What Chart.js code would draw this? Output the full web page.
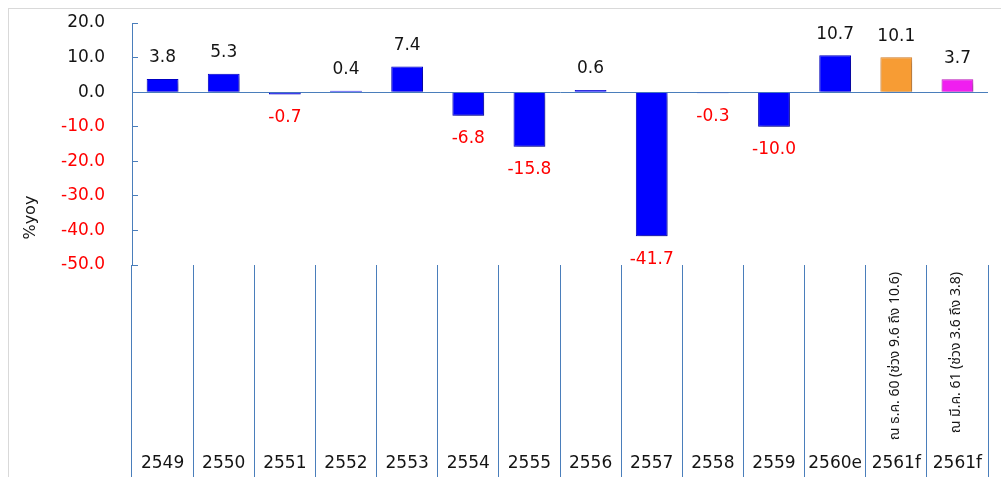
<!DOCTYPE html>
<html>
<head>
<meta charset="utf-8">
<script src="https://cdn.jsdelivr.net/npm/chart.js@4"></script>
<style>
  html, body { margin: 0; padding: 0; background: #fff; overflow: hidden; }
  #frame { position: absolute; left: 8px; top: 8px; width: 1010px; height: 490px; border: 1px solid #d9d9d9; }
  #chart { position: absolute; left: 0; top: 0; }
</style>
</head>
<body>
<div id="frame"></div>
<canvas id="chart" width="1001" height="477"></canvas>
<script>
// category labels (years) and forecast notes shown rotated above them
const years = ['2549', '2550', '2551', '2552', '2553', '2554', '2555', '2556', '2557', '2558', '2559', '2560e', '2561f', '2561f'];
const notes = ['', '', '', '', '', '', '', '', '', '', '', '',
    'ณ ธ.ค. 60 (ช่วง 9.6 ถึง 10.6)', 'ณ มี.ค. 61 (ช่วง 3.6 ถึง 3.8)'];

// growth, %yoy
const growth = [3.8, 5.3, -0.7, 0.4, 7.4, -6.8, -15.8, 0.6, -41.7, -0.3, -10.0, 10.7, 10.1, 3.7];

// value axis range
const yMin = -50;
const yMax = 20;
const yStep = 10;

const axisColor = '#4a7ebb';
const textDark = '#141414';
const textRed = '#ff0000';
const fontFamily = '"DejaVu Sans", Verdana, sans-serif';

const barColors = growth.map((_, i) => i === 12 ? '#f79c34' : i === 13 ? '#f01ef0' : '#0000ff');
const barBorders = growth.map((_, i) => i === 12 ? '#d9822b' : i === 13 ? '#c018c0' : '#0000c8');

// soft drop shadow under the bars, like the office bevel style
const barShadow = {
    id: 'barShadow',
    beforeDatasetDraw(chart) {
        const ctx = chart.ctx;
        ctx.save();
        ctx.shadowColor = 'rgba(0,0,0,0.35)';
        ctx.shadowBlur = 5;
        ctx.shadowOffsetX = 2;
        ctx.shadowOffsetY = 3;
    },
    afterDatasetDraw(chart) {
        chart.ctx.restore();
    }
};

// value labels above / below each bar
const valueLabels = {
    id: 'valueLabels',
    afterDatasetsDraw(chart) {
        const ctx = chart.ctx;
        const meta = chart.getDatasetMeta(0);
        ctx.save();
        ctx.font = '17px ' + fontFamily;
        ctx.textAlign = 'center';
        ctx.textBaseline = 'middle';
        meta.data.forEach((bar, i) => {
            const v = growth[i];
            if (v >= 0) {
                ctx.fillStyle = textDark;
                ctx.fillText(v.toFixed(1), bar.x, bar.y - 21);
            } else {
                ctx.fillStyle = textRed;
                ctx.fillText(v.toFixed(1), bar.x, bar.y + 23);
            }
        });
        ctx.restore();
    }
};

new Chart(document.getElementById('chart'), {
    type: 'bar',
    data: {
        labels: years,
        datasets: [{
            data: growth,
            backgroundColor: barColors,
            borderColor: barBorders,
            borderWidth: 1,
            categoryPercentage: 1,
            barPercentage: 0.52
        }]
    },
    options: {
        responsive: false,
        animation: false,
        layout: { padding: { top: 23, right: 13, left: 0, bottom: 0 } },
        plugins: {
            legend: { display: false },
            tooltip: { enabled: false }
        },
        scales: {
            y: {
                min: yMin,
                max: yMax,
                afterFit(scale) {
                    scale.width = 132;
                    // the big label gap should not eat space above the plot
                    scale.paddingTop = 0;
                    scale.paddingBottom = 0;
                },
                ticks: {
                    stepSize: yStep,
                    padding: 33,
                    font: { family: fontFamily, size: 17 },
                    color: ctx => ctx.tick.value < 0 ? textRed : textDark,
                    callback: v => v.toFixed(1)
                },
                grid: {
                    color: ctx => ctx.tick && ctx.tick.value === 0 ? axisColor : 'rgba(0,0,0,0)',
                    tickColor: axisColor,
                    tickLength: -6,
                    lineWidth: 1
                },
                border: { display: true, color: axisColor, width: 1 },
                title: {
                    display: true,
                    text: '     %yoy',
                    align: 'start',
                    color: textDark,
                    font: { family: fontFamily, size: 16 },
                    padding: { top: 21, bottom: 0 }
                }
            },
            x: {
                weight: 1,
                afterFit(scale) { scale.height = 30; },
                grid: {
                    offset: true,
                    drawOnChartArea: false,
                    tickLength: 30,
                    color: axisColor
                },
                border: { display: false },
                ticks: {
                    autoSkip: false,
                    maxRotation: 0,
                    padding: -24,
                    color: textDark,
                    font: { family: fontFamily, size: 17 }
                }
            },
            x2: {
                type: 'category',
                labels: notes,
                position: 'bottom',
                weight: 0,
                offset: true,
                afterFit(scale) { scale.height = 182; },
                grid: {
                    offset: true,
                    drawOnChartArea: false,
                    tickLength: 182,
                    color: axisColor
                },
                border: { display: false },
                ticks: {
                    autoSkip: false,
                    minRotation: 90,
                    maxRotation: 90,
                    padding: -175,
                    color: textDark,
                    font: { family: 'Tahoma, "Noto Sans Thai", "DejaVu Sans", sans-serif', size: 14 }
                }
            }
        }
    },
    plugins: [barShadow, valueLabels]
});
</script>
</body>
</html>
